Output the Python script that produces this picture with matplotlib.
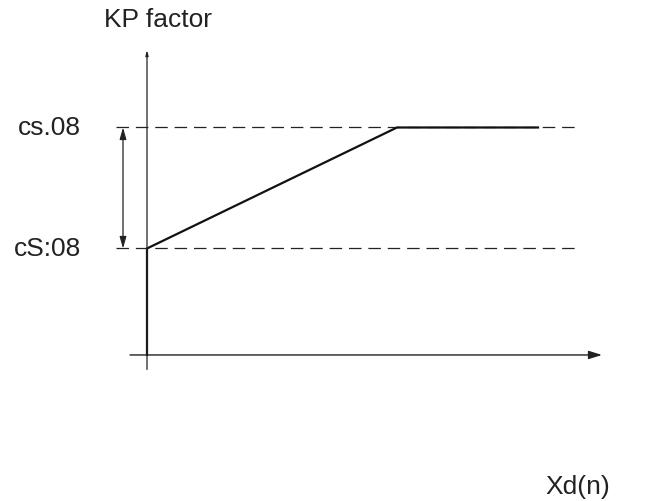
import matplotlib.pyplot as plt

plt.rcParams['font.family'] = ['Liberation Sans', 'DejaVu Sans']

# schematic levels (axis units: 100 px per x unit, 121 px per y unit)
level_low = 0.88
level_high = 1.88
x_knee = 2.5
x_end = 3.91
curve_x = [0, 0, x_knee, x_end]
curve_y = [0, level_low, level_high, level_high]
level_labels = ["cS:08", "cs.08"]
ylabel = "KP factor"
xlabel = "Xd(n)"

fig = plt.figure(figsize=(6.51, 5.02), dpi=100)
ax = fig.add_axes([0, 0, 1, 1])
ax.set_xlim(-1.47, 5.04)
ax.set_ylim(-1.207, 2.942)
ax.axis("off")

# dashed reference levels
for lv in (level_low, level_high):
    ax.plot([-0.31, 4.31], [lv, lv], color="#222222", lw=0.9, ls=(0, (10, 5.5)))

# axes with arrows
ax.annotate("", xy=(4.55, 0), xytext=(-0.17, 0),
            arrowprops=dict(arrowstyle="-|>,head_length=0.8,head_width=0.25",
                            color="#222222", lw=1.0, shrinkA=0, shrinkB=0))
ax.annotate("", xy=(0, 2.52), xytext=(0, -0.12),
            arrowprops=dict(arrowstyle="-|>,head_length=0.3,head_width=0.08",
                            color="#222222", lw=0.9, shrinkA=0, shrinkB=0))

# double arrow between levels
ax.annotate("", xy=(-0.24, level_high), xytext=(-0.24, level_low),
            arrowprops=dict(arrowstyle="<|-|>,head_length=0.7,head_width=0.2",
                            color="#222222", lw=0.9, shrinkA=0, shrinkB=0))

# KP factor curve
ax.plot(curve_x, curve_y, color="#111111", lw=1.6, solid_joinstyle="miter")

# labels
ax.text(0.11, 2.78, ylabel, fontsize=19, ha="center", va="center", color="#222222")
for lv, lab in zip((level_low, level_high), level_labels):
    ax.text(-0.66, lv, lab, fontsize=19, ha="right", va="center", color="#222222")
ax.text(4.63, -1.08, xlabel, fontsize=19, ha="right", va="center", color="#222222")

fig.savefig("out.png", dpi=100)
